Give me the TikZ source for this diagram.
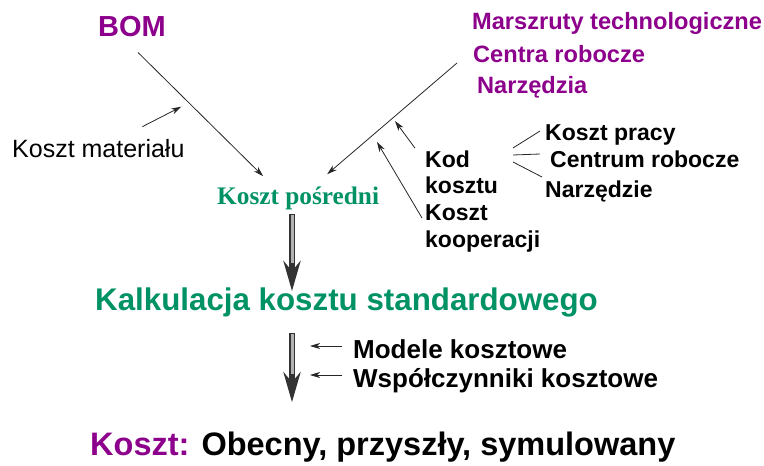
\documentclass[tikz,border=0pt]{standalone}
\usepackage{fontspec}
\setmainfont{Liberation Sans}
\newfontfamily\serifbf{Liberation Serif}
\usetikzlibrary{arrows.meta}
\definecolor{bompurple}{RGB}{140,0,140}
\definecolor{costgreen}{RGB}{0,146,100}
\newcommand{\fsz}[1]{\fontsize{#1}{#1}\selectfont}
\tikzset{
  txt/.style={inner sep=0pt, anchor=base west},
  src/.style={txt, text=bompurple, font=\bfseries\fsz{23.6}},
  code/.style={txt, font=\bfseries\fsz{23}},
  feed/.style={-{Stealth[length=10pt,width=6pt,inset=3pt]}, line width=0.8pt, black!85},
  wire/.style={line width=0.8pt, black!85},
  flow/.style={-{Stealth[length=30pt,width=17pt,inset=10pt]}, line width=6.5pt, black!80},
  core/.style={line width=3pt, gray!60}
}

\begin{document}
\begin{tikzpicture}[x=1pt, y=-1pt]
\useasboundingbox (0,0) rectangle (764,466);
% sources
\node[txt, text=bompurple, font=\bfseries\fsz{29}] (bom) at (98,36) {BOM};
\node[src] (marsz) at (472,29) {Marszruty technologiczne};
\node[src] (centra) at (473,62) {Centra robocze};
\node[src] (narz) at (477,93) {Narzędzia};
\node[txt, font=\fsz{25}] (mat) at (12,157) {Koszt materiału};
\node[txt, text=costgreen, font=\serifbf\bfseries\fsz{25.3}] (posredni) at (217,204) {Koszt pośredni};
% cost codes
\node[code] (kod) at (425,167) {Kod};
\node[code] (kosztu) at (425,193) {kosztu};
\node[code] (koszt) at (425,220) {Koszt};
\node[code] (koop) at (425,247) {kooperacji};
\node[code] (praca) at (545,140) {Koszt pracy};
\node[code] (centrum) at (550,167) {Centrum robocze};
\node[code] (narzedzie) at (545,197) {Narzędzie};
% result
\node[txt, text=costgreen, font=\bfseries\fsz{31.3}] (kalk) at (95,310) {Kalkulacja kosztu standardowego};
\node[txt, font=\bfseries\fsz{26}] (modele) at (353,358) {Modele kosztowe};
\node[txt, font=\bfseries\fsz{26}] (wspol) at (353,387) {Współczynniki kosztowe};
\node[txt, font=\bfseries\fsz{32.5}] (wynik) at (90,455) {\textcolor{bompurple}{Koszt:} Obecny, przyszły, symulowany};

\coordinate (axis) at (292,0);
\coordinate (kodtip) at (395,121);
\coordinate (kooptip) at (377,142);
\coordinate (fork) at (513,155);

\draw[feed] ([shift={(6,16)}]bom.south) -- ([shift={(-35,-10)}]posredni.north);
\draw[feed] ([shift={(-16,1)}]centra.base west) -- ([shift={(29,-12)}]posredni.north);
\draw[feed] ([shift={(44,-12)}]mat.north) -- ++(39,-20);
\draw[feed] ([shift={(-10,-2)}]kod.north west) -- (kodtip);
\draw[feed] ([shift={(-3,-2)}]koszt.base west) -- (kooptip);
\draw[wire] ([yshift=7]fork) -- ([shift={(-5,-9)}]praca.base west);
\draw[wire] (fork) -- ([shift={(-10,-13)}]centrum.base west);
\draw[wire] ([yshift=-7]fork) -- ([shift={(-3,-20)}]narzedzie.base west);

\draw[flow, shorten <=4pt, shorten >=-4pt] (posredni.south -| axis) -- (kalk.north -| axis);
\draw[core, shorten <=5pt, shorten >=24pt] (posredni.south -| axis) -- (kalk.north -| axis);
\draw[flow, shorten <=16pt, shorten >=29pt] (kalk.south -| axis) -- (wynik.north -| axis);
\draw[core, shorten <=17pt, shorten >=57pt] (kalk.south -| axis) -- (wynik.north -| axis);
\draw[feed] ([shift={(-11,-12)}]modele.base west) -- ++(-32,0);
\draw[feed] ([shift={(-11,-12)}]wspol.base west) -- ++(-32,0);
\end{tikzpicture}
\end{document}
